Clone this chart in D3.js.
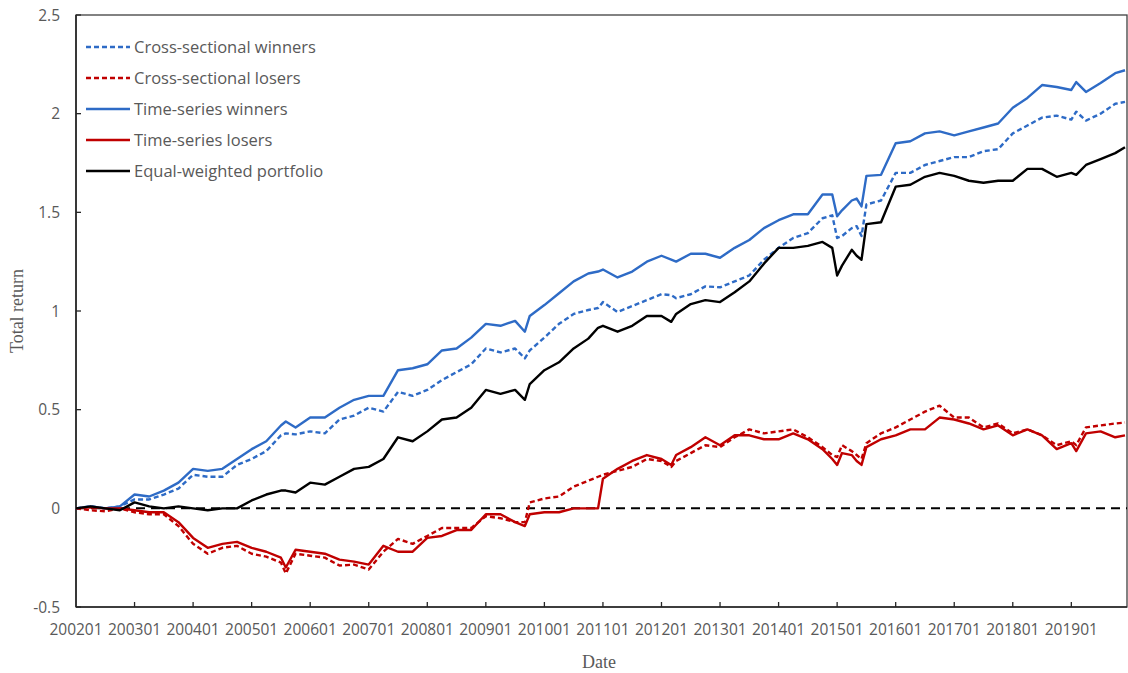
<!doctype html>
<html>
<head>
<meta charset="utf-8">
<style>
    body { margin: 0; background: #fff; }
    svg { display: block; }
    .tick-label { font-family: 'Open Sans', sans-serif; font-size: 15.5px; fill: #595959; }
    .legend text { font-family: 'Open Sans', sans-serif; font-size: 16.5px; fill: #595959; }
    .axis-title { font-family: 'Liberation Serif', 'Times New Roman', serif; font-size: 18px; fill: #595959; }
</style>
<script src="https://d3js.org/d3.v7.min.js"></script>
</head>
<body>
<svg width="1128" height="673"></svg>
<script>
// month index from 200201 (0) to 201912 (215)
const months = [0,3,6,9,12,15,18,21,24,27,30,33,36,39,42,43,45,48,51,54,57,60,63,66,69,72,75,78,81,84,87,90,92,93,96,99,102,105,107,108,111,114,117,120,122,123,126,129,132,135,138,141,144,147,150,153,155,156,157,159,160,161,162,165,168,171,174,177,180,183,186,189,192,195,198,201,204,205,207,210,213,215];

const tsWinners = [0,0.01,0,0.01,0.07,0.06,0.09,0.13,0.20,0.19,0.20,0.25,0.30,0.34,0.42,0.44,0.41,0.46,0.46,0.51,0.55,0.57,0.57,0.70,0.71,0.73,0.80,0.81,0.865,0.935,0.925,0.95,0.895,0.975,1.03,1.09,1.15,1.19,1.20,1.21,1.17,1.20,1.25,1.28,1.26,1.25,1.29,1.29,1.27,1.32,1.36,1.42,1.46,1.49,1.49,1.59,1.59,1.48,1.51,1.56,1.57,1.53,1.685,1.69,1.85,1.86,1.90,1.91,1.89,1.91,1.93,1.95,2.03,2.08,2.145,2.135,2.12,2.16,2.11,2.155,2.205,2.22];

const csWinners = [0,0.01,0,0.01,0.045,0.045,0.07,0.10,0.17,0.16,0.16,0.22,0.25,0.29,0.37,0.38,0.375,0.39,0.38,0.45,0.47,0.51,0.49,0.59,0.57,0.60,0.65,0.69,0.73,0.81,0.79,0.81,0.76,0.80,0.865,0.935,0.985,1.005,1.015,1.045,0.995,1.025,1.055,1.085,1.08,1.065,1.085,1.125,1.12,1.15,1.18,1.26,1.32,1.37,1.395,1.47,1.485,1.37,1.38,1.42,1.43,1.38,1.54,1.56,1.70,1.70,1.74,1.76,1.78,1.78,1.81,1.82,1.90,1.94,1.98,1.99,1.97,2.01,1.965,2.00,2.05,2.06];

const equalWeighted = [0,0.01,0,-0.01,0.03,0.01,0,0.01,0,-0.01,0,0,0.04,0.07,0.09,0.09,0.08,0.13,0.12,0.16,0.20,0.21,0.25,0.36,0.34,0.39,0.45,0.46,0.51,0.60,0.58,0.60,0.55,0.63,0.70,0.74,0.81,0.86,0.915,0.925,0.895,0.925,0.975,0.975,0.945,0.985,1.035,1.055,1.045,1.095,1.15,1.24,1.32,1.32,1.33,1.35,1.32,1.18,1.23,1.31,1.28,1.26,1.44,1.45,1.63,1.64,1.68,1.70,1.685,1.66,1.65,1.66,1.66,1.72,1.72,1.68,1.70,1.69,1.74,1.77,1.80,1.83];

const tsLosers = [0,0.005,0,0,-0.01,-0.02,-0.02,-0.07,-0.15,-0.20,-0.18,-0.17,-0.20,-0.22,-0.25,-0.30,-0.21,-0.22,-0.23,-0.26,-0.27,-0.285,-0.19,-0.22,-0.22,-0.15,-0.14,-0.11,-0.11,-0.03,-0.03,-0.07,-0.09,-0.03,-0.02,-0.02,0,0,0,0.15,0.20,0.24,0.27,0.25,0.22,0.27,0.31,0.36,0.32,0.37,0.37,0.35,0.35,0.38,0.35,0.30,0.25,0.22,0.28,0.27,0.24,0.22,0.31,0.35,0.37,0.40,0.40,0.46,0.45,0.43,0.40,0.42,0.37,0.40,0.37,0.30,0.33,0.29,0.38,0.39,0.36,0.37];

const csLosers = [0,-0.01,-0.015,0,-0.02,-0.03,-0.03,-0.09,-0.18,-0.23,-0.20,-0.19,-0.23,-0.245,-0.275,-0.33,-0.23,-0.24,-0.25,-0.29,-0.285,-0.31,-0.22,-0.155,-0.18,-0.14,-0.10,-0.10,-0.10,-0.04,-0.05,-0.07,-0.07,0.03,0.05,0.06,0.11,0.14,0.16,0.17,0.19,0.21,0.25,0.24,0.21,0.24,0.28,0.32,0.31,0.36,0.40,0.38,0.39,0.40,0.36,0.31,0.27,0.26,0.32,0.29,0.27,0.25,0.33,0.38,0.41,0.45,0.49,0.52,0.46,0.46,0.41,0.43,0.38,0.40,0.37,0.32,0.34,0.32,0.41,0.42,0.43,0.435];

const xTickLabels = ['200201','200301','200401','200501','200601','200701','200801','200901','201001','201101','201201','201301','201401','201501','201601','201701','201801','201901'];
const yTicks = [-0.5, 0, 0.5, 1, 1.5, 2, 2.5];

const series = [
    { name: 'Cross-sectional winners', values: csWinners, color: '#2E6BC6', dash: '5 3' },
    { name: 'Cross-sectional losers', values: csLosers, color: '#C00000', dash: '5 3' },
    { name: 'Time-series winners', values: tsWinners, color: '#2E6BC6', dash: null },
    { name: 'Time-series losers', values: tsLosers, color: '#C00000', dash: null },
    { name: 'Equal-weighted portfolio', values: equalWeighted, color: '#000000', dash: null }
];

const svg = d3.select('svg');
const plotLeft = 76, plotRight = 1127, plotTop = 15, plotBottom = 607;

const x = d3.scaleLinear().domain([0, 215]).range([plotLeft, plotRight - 2]);
const y = d3.scaleLinear().domain([-0.5, 2.5]).range([plotBottom, plotTop]);

// frame: thin top/right, heavier left/bottom axes
svg.append('rect')
    .attr('x', plotLeft).attr('y', plotTop)
    .attr('width', plotRight - plotLeft).attr('height', plotBottom - plotTop)
    .attr('fill', 'none').attr('stroke', '#404040').attr('stroke-width', 1.3);

svg.append('line')
    .attr('x1', plotLeft).attr('x2', plotLeft)
    .attr('y1', plotTop).attr('y2', plotBottom)
    .attr('stroke', '#262626').attr('stroke-width', 1.6);

svg.append('line')
    .attr('x1', plotLeft).attr('x2', plotRight)
    .attr('y1', plotBottom).attr('y2', plotBottom)
    .attr('stroke', '#262626').attr('stroke-width', 1.6);

// y axis ticks (inside) and labels
svg.selectAll('.ytick').data(yTicks).enter().append('line')
    .attr('x1', plotLeft).attr('x2', plotLeft + 5)
    .attr('y1', d => y(d)).attr('y2', d => y(d))
    .attr('stroke', '#262626').attr('stroke-width', 1.3);

svg.selectAll('.ylab').data(yTicks).enter().append('text')
    .attr('class', 'tick-label')
    .attr('x', plotLeft - 16).attr('y', d => y(d) + 5.5)
    .attr('text-anchor', 'end')
    .text(d => d);

// x axis ticks and labels
const monthOf = s => (+s.slice(0, 4) - 2002) * 12 + (+s.slice(4) - 1);

svg.selectAll('.xtick').data(xTickLabels.slice(1)).enter().append('line')
    .attr('x1', d => x(monthOf(d))).attr('x2', d => x(monthOf(d)))
    .attr('y1', plotBottom).attr('y2', plotBottom - 5)
    .attr('stroke', '#262626').attr('stroke-width', 1.3);

svg.selectAll('.xlab').data(xTickLabels).enter().append('text')
    .attr('class', 'tick-label')
    .attr('x', d => x(monthOf(d))).attr('y', plotBottom + 28)
    .attr('text-anchor', 'middle')
    .text(d => d);

// zero line
svg.append('line')
    .attr('x1', plotLeft).attr('x2', plotRight)
    .attr('y1', y(0)).attr('y2', y(0))
    .attr('stroke', '#000').attr('stroke-width', 2)
    .attr('stroke-dasharray', '9 6');

// series
const line = d3.line()
    .x((d, i) => x(months[i]))
    .y(d => y(d));

series.forEach(s => {
    svg.append('path')
        .datum(s.values)
        .attr('fill', 'none')
        .attr('stroke', s.color)
        .attr('stroke-width', 2.4)
        .attr('stroke-linejoin', 'round')
        .attr('stroke-dasharray', s.dash)
        .attr('d', line);
});

// legend
const legend = svg.append('g').attr('class', 'legend');
series.forEach((s, i) => {
    const ly = 47 + i * 31;
    legend.append('line')
        .attr('x1', 86).attr('x2', 130)
        .attr('y1', ly).attr('y2', ly)
        .attr('stroke', s.color).attr('stroke-width', 2.4)
        .attr('stroke-dasharray', s.dash);
    legend.append('text')
        .attr('x', 134).attr('y', ly + 6)
        .text(s.name);
});

// axis titles
svg.append('text')
    .attr('class', 'axis-title')
    .attr('transform', `translate(23, ${(plotTop + plotBottom) / 2}) rotate(-90)`)
    .attr('text-anchor', 'middle')
    .text('Total return');

svg.append('text')
    .attr('class', 'axis-title')
    .attr('x', 599).attr('y', 668)
    .attr('text-anchor', 'middle')
    .text('Date');
</script>
</body>
</html>
